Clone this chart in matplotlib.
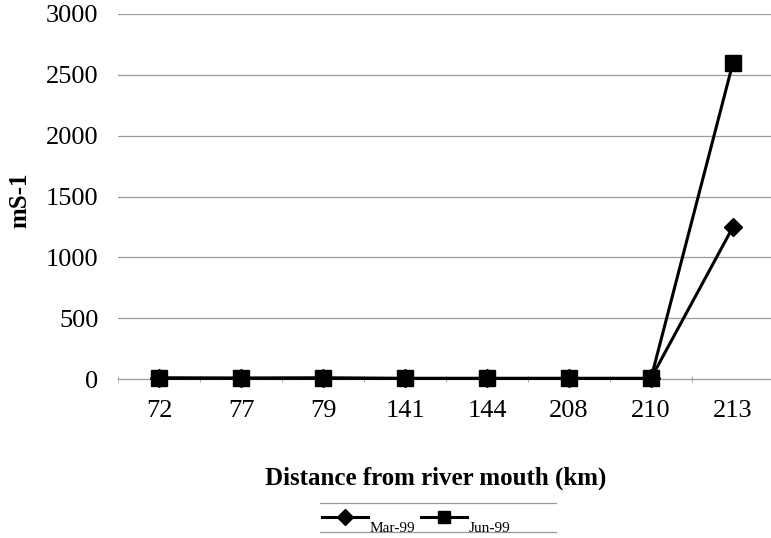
import matplotlib
matplotlib.use("Agg")
import matplotlib.pyplot as plt
from matplotlib.lines import Line2D

categories = ["72", "77", "79", "141", "144", "208", "210", "213"]
mar99 = [5, 5, 5, 5, 5, 5, 5, 1250]
jun99 = [10, 8, 10, 5, 5, 5, 5, 2600]
yticks = [0, 500, 1000, 1500, 2000, 2500, 3000]

W, H = 771, 538
fig = plt.figure(figsize=(W/100, H/100), dpi=100)
serif = ["Liberation Serif", "DejaVu Serif"]

left, right, top, bottom = 118, 774, 14, 379
ax = fig.add_axes([left/W, (H-bottom)/H, (right-left)/W, (bottom-top)/H])
x = list(range(len(categories)))

for v in yticks[1:]:
    ax.axhline(v, color="#9a9a9a", lw=0.9, zorder=0)
ax.plot(x, mar99, color="black", lw=2.2, marker="D", ms=9, clip_on=False, zorder=3)
ax.plot(x, jun99, color="black", lw=2.2, marker="s", ms=11, clip_on=False, zorder=4)

ax.set_xlim(-0.5, 7.5)
ax.set_ylim(0, 3000)
ax.set_yticks(yticks)
ax.set_yticklabels([str(v) for v in yticks], fontsize=19, family=serif)
ax.set_xticks(x)
ax.set_xticklabels(categories, fontsize=19, family=serif)
ax.set_xticks([i + 0.5 for i in range(-1, 8)], minor=True)
ax.tick_params(axis="x", which="major", length=0, pad=15)
ax.tick_params(axis="x", which="minor", length=5, color="#9a9a9a", direction="inout")
ax.tick_params(axis="y", length=0, pad=14)
for s in ["top", "right", "left"]:
    ax.spines[s].set_visible(False)
ax.spines["bottom"].set_color("#9a9a9a")
ax.spines["bottom"].set_linewidth(0.9)

fig.text(20/W, 1-200/H, "mS-1", fontsize=18, fontweight="bold", family=serif,
         rotation=90, ha="center", va="center")
fig.text(436/W, 1-478/H, "Distance from river mouth (km)", fontsize=18,
         fontweight="bold", family=serif, ha="center", va="center")

handles = [Line2D([], [], color="black", lw=2.2, marker="D", ms=8),
           Line2D([], [], color="black", lw=2.2, marker="s", ms=9)]
leg = fig.legend(handles, ["Mar-99", "Jun-99"], loc="center", bbox_to_anchor=(416/W, 1-518/H),
                 ncol=2, frameon=False, prop={"family": serif, "size": 11},
                 handlelength=3.0, columnspacing=0.4, handletextpad=0.1)
for t in leg.get_texts():
    t.set_va("top")
fig.lines.append(Line2D([320/W, 556/W], [1-503/H, 1-503/H], color="#9a9a9a", lw=0.9, transform=fig.transFigure))
fig.lines.append(Line2D([320/W, 556/W], [1-532/H, 1-532/H], color="#9a9a9a", lw=0.9, transform=fig.transFigure))

fig.savefig("out.png", dpi=100)
